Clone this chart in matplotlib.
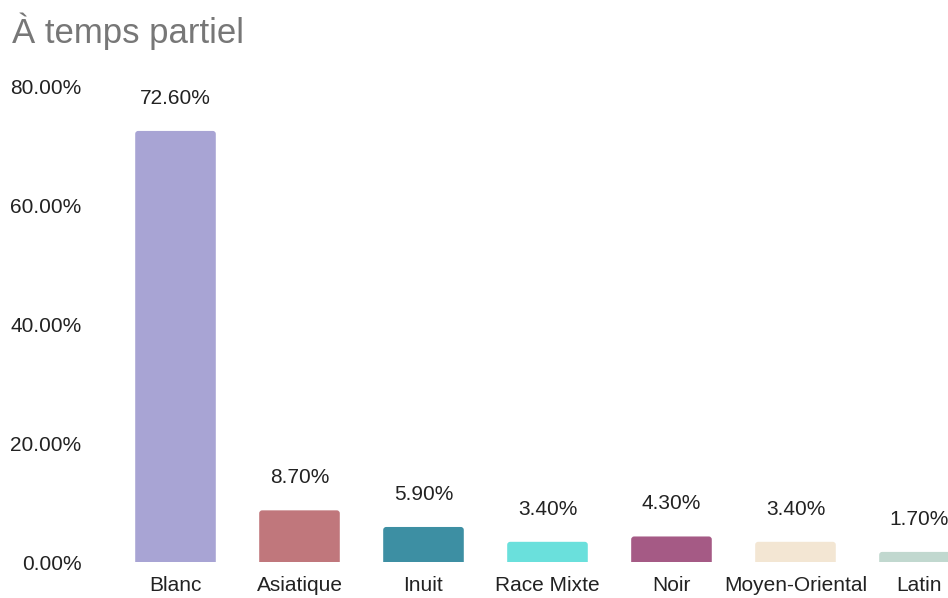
import matplotlib
matplotlib.use("Agg")
import matplotlib.pyplot as plt
from matplotlib.patches import FancyBboxPatch
from matplotlib.ticker import FuncFormatter

categories = ["Blanc", "Asiatique", "Inuit", "Race Mixte", "Noir", "Moyen-Oriental", "Latin"]
values = [72.6, 8.7, 5.9, 3.4, 4.3, 3.4, 1.7]
colors = ["#a8a4d4", "#c0777c", "#3d8fa3", "#6ae0dc", "#a55a85", "#f3e6d3", "#c1d8cf"]
yticks = [0, 20, 40, 60, 80]
title = "À temps partiel"

plt.rcParams["font.family"] = ["Liberation Sans", "DejaVu Sans"]

W, H = 948, 598
fig = plt.figure(figsize=(W / 100, H / 100), dpi=100)
ax = fig.add_axes([113.5 / W, (H - 562) / H, 834.5 / W, (562 - 87) / H])

x = list(range(len(categories)))
bar_w = 0.65
bars = ax.bar(x, values, width=bar_w, color=colors)

ax.set_xlim(-0.5, 6.23)
ax.set_ylim(0, 80)

# px-per-unit ratio so the rounded corners stay circular
px_x = 834.5 / 6.73
px_y = (562 - 87) / 80
for b in bars:
    b.set_visible(False)
    r = FancyBboxPatch((b.get_x(), -2), b.get_width(), b.get_height() + 2,
                       boxstyle="round,pad=0,rounding_size=%f" % (3 / px_x),
                       mutation_aspect=px_x / px_y,
                       facecolor=b.get_facecolor(), edgecolor="none")
    ax.add_patch(r)

for xi, v in zip(x, values):
    ax.annotate("%.2f%%" % v, (xi, v), xytext=(0, 27), textcoords="offset pixels",
                ha="center", va="baseline", fontsize=15, color="#222222",
                annotation_clip=False)

ax.set_xticks(x)
ax.set_xticklabels(categories, fontsize=15, color="#222222")
ax.set_yticks(yticks)
ax.yaxis.set_major_formatter(FuncFormatter(lambda v, p: "%.2f%%" % v))
ax.tick_params(axis="y", labelsize=15, labelcolor="#222222", length=0, pad=23)
ax.tick_params(axis="x", length=0, pad=10)
for s in ax.spines.values():
    s.set_visible(False)

fig.text(12 / W, 1 - 43 / H, title, fontsize=25, color="#777777", ha="left", va="baseline")

fig.savefig("out.png", dpi=100)
